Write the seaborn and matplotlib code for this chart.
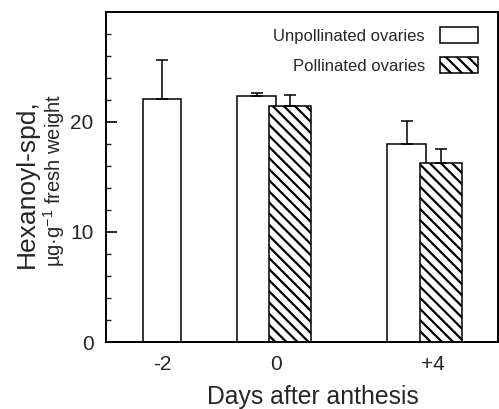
import numpy as np
import pandas as pd
import matplotlib
matplotlib.use("Agg")
import matplotlib.pyplot as plt
import seaborn as sns
from matplotlib.patches import Patch

# ---- data ----
day_labels = ["-2", "0", "+4"]
series_names = ["Unpollinated ovaries", "Pollinated ovaries"]
unpol_days = ["-2", "0", "+4"]
unpol_mean = [22.05, 22.4, 18.0]
unpol_err = [3.55, 0.27, 2.1]
pol_days = ["0", "+4"]
pol_mean = [21.45, 16.3]
pol_err = [0.97, 1.2]

# ---- layout (positions on the x axis, widths) ----
tick_pos = {"-2": 0.0, "0": 1.0, "+4": 2.377}
unpol_offset = {"-2": 0.0, "0": -0.171, "+4": -0.232}
pol_offset = {"0": 0.123, "+4": 0.07}
unpol_w = 0.338
pol_w = 0.368
HATCH = "\\\\\\"

sns.set_style("ticks")
plt.rcParams["font.family"] = ["Liberation Sans", "DejaVu Sans"]
plt.rcParams["mathtext.fontset"] = "custom"
plt.rcParams["mathtext.rm"] = "Liberation Sans"
plt.rcParams["mathtext.it"] = "Liberation Sans:italic"
plt.rcParams["hatch.linewidth"] = 1.6
plt.rcParams["hatch.color"] = "black"

fig = plt.figure(figsize=(4.99, 4.09), dpi=100)
ax = fig.add_axes([106 / 499, 1 - 342 / 409, 392 / 499, 330 / 409])

df_u = pd.DataFrame({
    "pos": [tick_pos[d] + unpol_offset[d] for d in unpol_days],
    "val": unpol_mean,
    "err": unpol_err,
})
df_p = pd.DataFrame({
    "pos": [tick_pos[d] + pol_offset[d] for d in pol_days],
    "val": pol_mean,
    "err": pol_err,
})

def min_gap(v):
    u = np.unique(v)
    return np.min(np.diff(u)) if len(u) > 1 else 1.0

sns.barplot(data=df_u, x="pos", y="val", native_scale=True, orient="x",
            width=unpol_w / min_gap(df_u["pos"]), color="white", saturation=1,
            edgecolor="black", linewidth=1.1, errorbar=None, ax=ax)
sns.barplot(data=df_p, x="pos", y="val", native_scale=True, orient="x",
            width=pol_w / min_gap(df_p["pos"]), color="white", saturation=1,
            edgecolor="black", linewidth=1.1, hatch=HATCH, errorbar=None, ax=ax)

for df in (df_u, df_p):
    ax.errorbar(df["pos"], df["val"], yerr=[np.zeros(len(df)), df["err"]],
                fmt="none", ecolor="black", elinewidth=1.1, capsize=4,
                capthick=1.1, zorder=3)

ax.set_xlim(-0.491, 2.947)
ax.set_ylim(0, 30)
ax.set_xticks([tick_pos[d] for d in day_labels])
ax.set_xticklabels(day_labels)
ax.set_yticks([0, 10, 20])
ax.set_yticks(np.arange(2, 30, 2), minor=True)
ax.tick_params(axis="x", length=0, pad=9, labelsize=15)
ax.tick_params(axis="y", which="major", direction="in", length=8, width=1.4,
               pad=9, labelsize=15)
ax.tick_params(axis="y", which="minor", direction="in", length=3.5, width=1.0)
for s in ax.spines.values():
    s.set_visible(True)
    s.set_linewidth(1.4)
    s.set_color("black")

ax.set_xlabel("Days after anthesis", fontsize=17.8, va="center")
ax.xaxis.set_label_coords(0.527, -0.167)
ax.set_ylabel("Hexanoyl-spd,", fontsize=19, va="center")
ax.yaxis.set_label_coords(-0.2015, 0.479)
ax.text(-0.1327, 0.491, "\u00b5g\u00b7g$^{-1}$ fresh weight", rotation=90,
        ha="center", va="center", fontsize=14.5, transform=ax.transAxes)

handles = [Patch(facecolor="white", edgecolor="black", linewidth=1.1),
           Patch(facecolor="white", edgecolor="black", linewidth=1.1, hatch=HATCH)]
ax.legend(handles, series_names, loc="upper right",
          bbox_to_anchor=(0.949, 0.9545), frameon=False, markerfirst=False,
          fontsize=12, handlelength=2.28, handleheight=1.14, handletextpad=0.9,
          labelspacing=0.78, borderpad=0, borderaxespad=0)

fig.savefig("out.png", dpi=100)
